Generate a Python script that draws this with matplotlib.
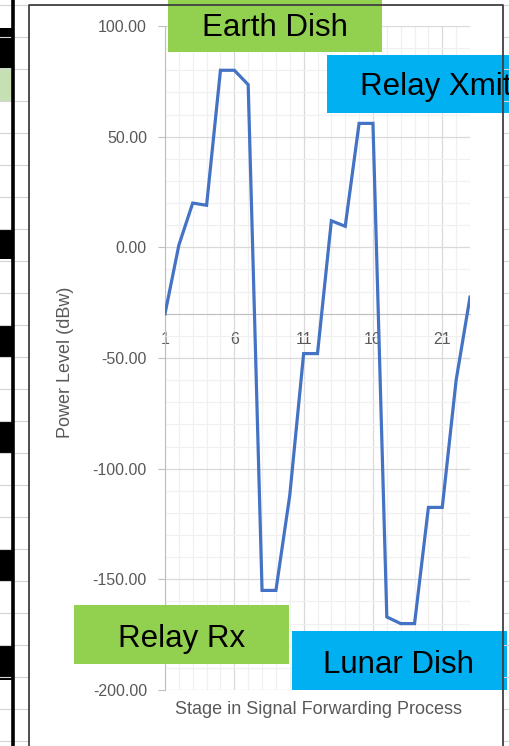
import numpy as np
import matplotlib.pyplot as plt
from matplotlib.patches import Rectangle
from matplotlib.ticker import MultipleLocator, FuncFormatter

plt.rcParams['axes.unicode_minus'] = False
plt.rcParams['font.family'] = ['Liberation Sans', 'DejaVu Sans']

# data
stages = np.arange(1, 24)
power_dbw = [-30, 1, 20, 19, 80, 80, 73.5, -155, -155, -112, -48, -48,
             12, 9.5, 56, 56, -167, -170, -170, -117.5, -117.5, -60, -22.5]
stage_ticks = [1, 6, 11, 16, 21]
box_labels = ['Earth Dish', 'Relay Xmit', 'Relay Rx', 'Lunar Dish']

W, H = 510, 746
fig = plt.figure(figsize=(W / 100, H / 100), dpi=100)

ax = fig.add_axes([165 / W, 1 - 690 / H, (470 - 165) / W, (690 - 26) / H])
ax.plot(stages, power_dbw, color='#4472c4', lw=2.3, solid_joinstyle='miter', zorder=3)
ax.set_xlim(1, 23)
ax.set_ylim(-200, 100)

ax.xaxis.set_major_locator(MultipleLocator(5, offset=1))
ax.xaxis.set_minor_locator(MultipleLocator(1))
ax.yaxis.set_major_locator(MultipleLocator(50))
ax.yaxis.set_minor_locator(MultipleLocator(10))
ax.yaxis.set_major_formatter(FuncFormatter(lambda v, p: f'{v:.2f}'))

ax.grid(which='minor', color='#f0f0f0', lw=0.9)
ax.grid(which='major', color='#d9d9d9', lw=0.9)
ax.set_axisbelow(True)

for s in ['top', 'right']:
    ax.spines[s].set_visible(False)
ax.spines['left'].set_color('#bfbfbf')
ax.spines['bottom'].set_color('#bfbfbf')
ax.spines['bottom'].set_position(('data', -30))

ax.tick_params(axis='y', which='major', length=5, color='#bfbfbf',
               labelcolor='#595959', labelsize=11.5, pad=8)
ax.tick_params(axis='y', which='minor', length=0)
ax.tick_params(axis='x', which='both', length=0, labelcolor='#595959',
               labelsize=11.5, pad=13)
ax.set_xticks(stage_ticks)

fig.text(66 / W, 1 - 362 / H, 'Power Level (dBw)', rotation=90, ha='center',
         va='center', color='#595959', fontsize=13)
fig.text(319 / W, 1 - 710 / H, 'Stage in Signal Forwarding Process', ha='center',
         va='center', color='#595959', fontsize=13)

# overlay in pixel units for the spreadsheet bits and text boxes
ov = fig.add_axes([0, 0, 1, 1], zorder=10)
ov.set_xlim(0, W)
ov.set_ylim(H, 0)
ov.axis('off')
ov.patch.set_alpha(0)

# spreadsheet cells at the left
for y in range(5, H, 32):
    ov.plot([0, 29], [y, y], color='#d4d4d4', lw=0.8)
    ov.plot([503, W], [y, y], color='#d4d4d4', lw=0.8)
for y0, y1 in [(28, 68), (229, 259), (325, 357), (421, 453), (549, 581), (645, 680)]:
    ov.add_patch(Rectangle((0, y0), 12, y1 - y0, color='black', lw=0))
ov.add_patch(Rectangle((0, 68), 12, 34, color='#c6e0b4', lw=0))
ov.plot([13, 13], [0, H], color='black', lw=2.6)

# chart area border
ov.plot([29, 29, 503, 503], [H, 5, 5, H], color='#404040', lw=1.3)

# coloured labels (Relay Xmit runs off the right edge, as in the screenshot)
green, blue = '#92d050', '#00b0f0'
boxes = [(168, 0, 382, 52, green, 275, 28),
         (327, 55, 512, 113, blue, 436, 87),
         (74, 605, 289, 664, green, 182, 639),
         (292, 631, 507, 690, blue, 398, 665)]
for lab, (x0, y0, x1, y1, c, tx, ty) in zip(box_labels, boxes):
    ov.add_patch(Rectangle((x0, y0), x1 - x0, y1 - y0, color=c, lw=0))
    ov.text(tx, ty, lab, ha='center', va='center', fontsize=22.5, color='black')

fig.savefig('out.png', dpi=100)
